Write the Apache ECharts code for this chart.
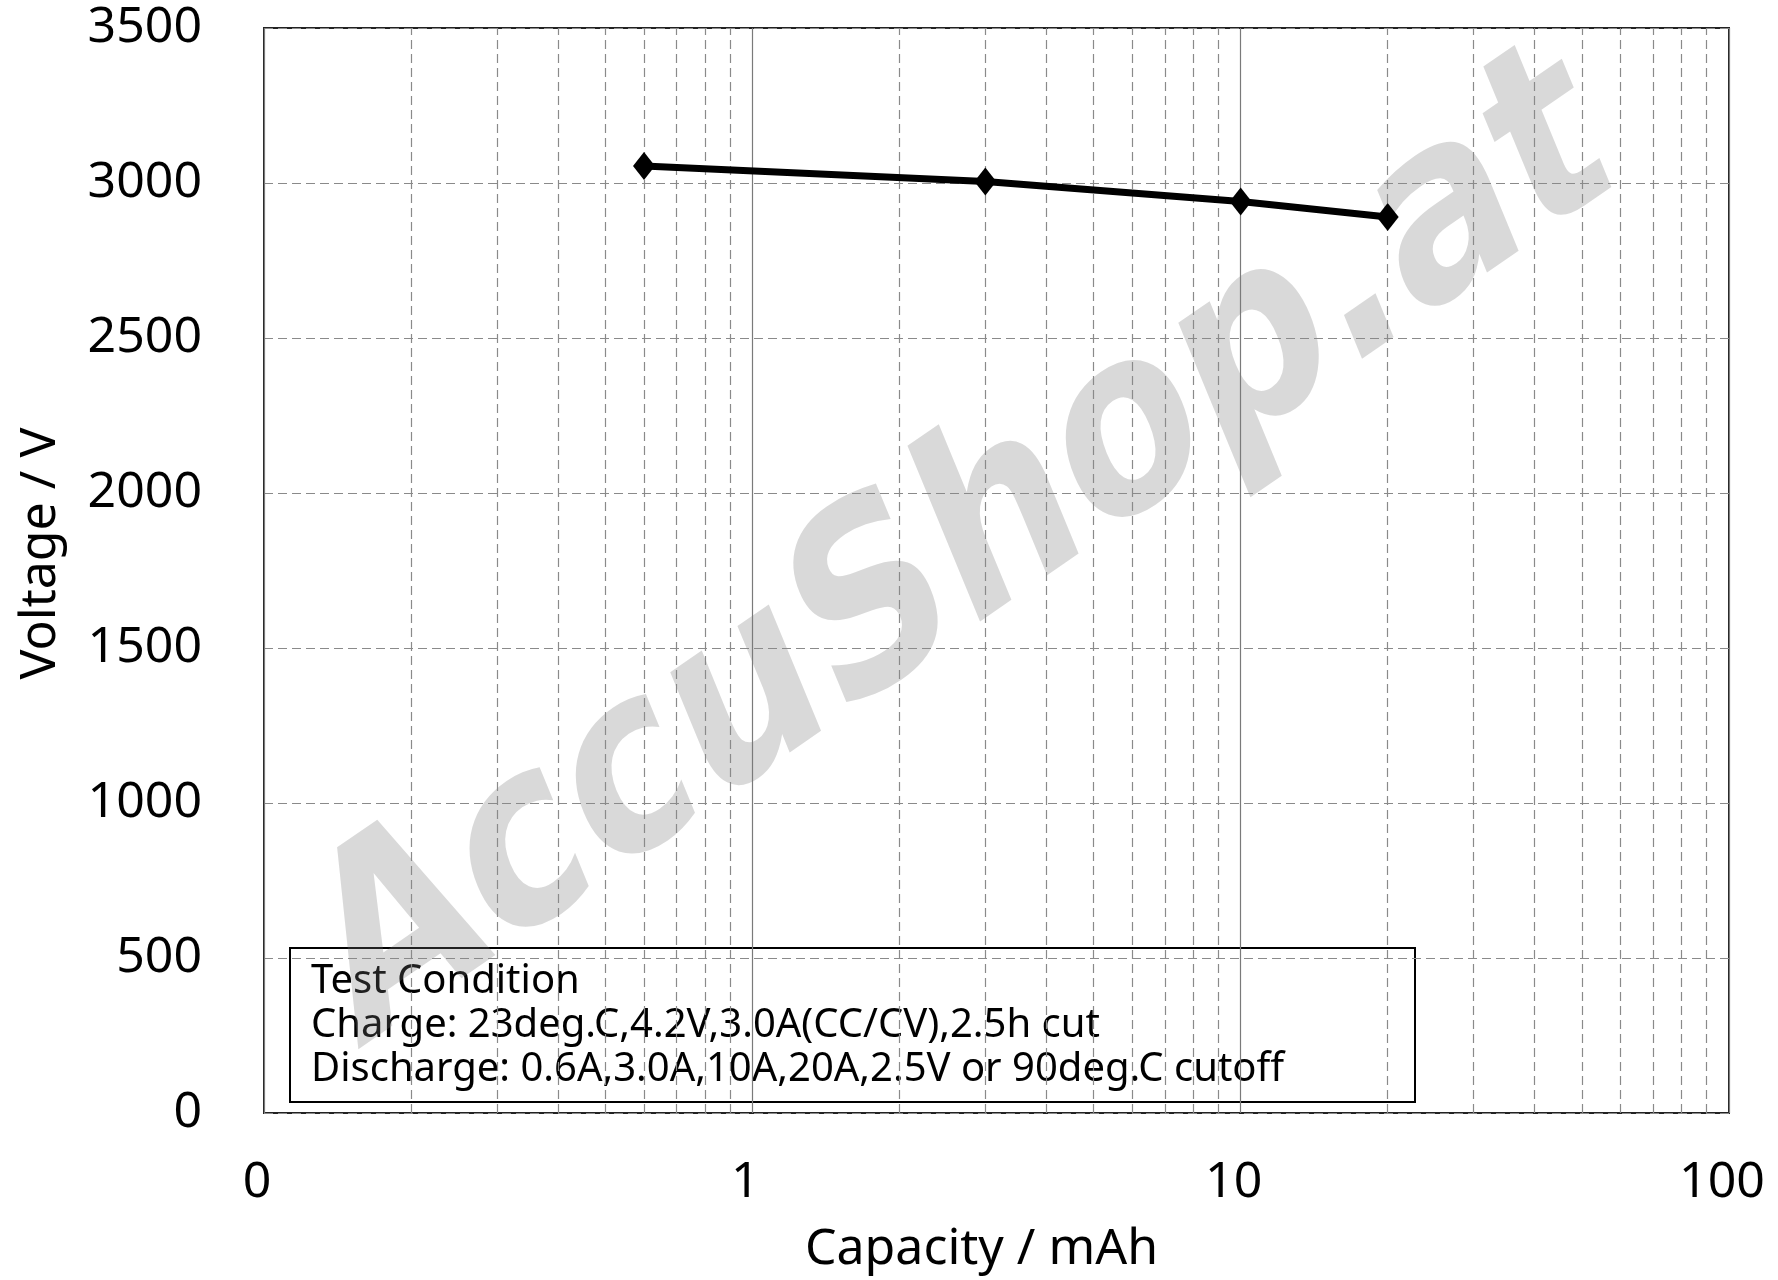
<!DOCTYPE html>
<html>
<head>
<meta charset="utf-8">
<script src="https://cdn.jsdelivr.net/npm/echarts@6/dist/echarts.min.js"></script>
<style>
html,body{margin:0;padding:0;background:#fff;}
#chart{width:1778px;height:1280px;}
</style>
</head>
<body>
<div id="chart"></div>
<script>
// ---- data ----
const capacity = [0.6, 3, 10, 20];            // mAh (x, log scale)
const voltage = [3055, 3005, 2940, 2890];      // V
const xTickValues = [0.1, 1, 10, 100];
const xTickLabels = ['0', '1', '10', '100'];
const minorGridValues = [0.2, 0.3, 0.4, 0.5, 0.6, 0.7, 0.8, 0.9,
                         2, 3, 4, 5, 6, 7, 8, 9,
                         20, 30, 40, 50, 60, 70, 80, 90];
const yMin = 0, yMax = 3500, yInterval = 500;
const xAxisName = 'Capacity / mAh';
const yAxisName = 'Voltage / V';
const legendLines = [
  'Test Condition',
  'Charge: 23deg.C,4.2V,3.0A(CC/CV),2.5h cut',
  'Discharge: 0.6A,3.0A,10A,20A,2.5V or 90deg.C cutoff'
];
const watermarkText = 'AccuShop.at';

// ---- chart ----
const FONT = '"Noto Sans", "DejaVu Sans", sans-serif';
const chart = echarts.init(document.getElementById('chart'), null, {renderer: 'canvas'});

const dashGray = '#8a8a8a';

const option = {
  backgroundColor: '#ffffff',
  animation: false,
  grid: {
    left: 264, top: 28, right: 49, bottom: 161,
    show: true, borderColor: '#222', borderWidth: 2, backgroundColor: 'transparent'
  },
  xAxis: {
    type: 'log', logBase: 10, min: xTickValues[0], max: xTickValues[xTickValues.length - 1],
    name: xAxisName, nameLocation: 'middle', nameGap: 112,
    nameTextStyle: {fontFamily: FONT, fontSize: 50, color: '#000', padding: [0, 30, 0, 0]},
    axisLine: {show: false},
    axisTick: {show: false},
    axisLabel: {
      fontFamily: FONT, fontSize: 50, color: '#000', margin: 45,
      padding: [0, 14, 0, 0],
      formatter: function (v) {
        const i = xTickValues.findIndex(t => Math.abs(Math.log10(t) - Math.log10(v)) < 1e-6);
        return i >= 0 ? xTickLabels[i] : '';
      }
    },
    splitLine: {show: true, lineStyle: {color: '#7a7a7a', width: 1.2, type: 'solid'}},
    minorTick: {show: false},
    minorSplitLine: {show: false}
  },
  yAxis: {
    type: 'value', min: yMin, max: yMax, interval: yInterval,
    name: yAxisName, nameLocation: 'middle', nameGap: 198, nameRotate: 90,
    nameTextStyle: {fontFamily: FONT, fontSize: 50, color: '#000', padding: [0, 0, 0, 34]},
    axisLine: {show: false},
    axisTick: {show: false},
    axisLabel: {
      fontFamily: FONT, fontSize: 50, color: '#000', margin: 62,
      formatter: function (v) { return String(v); }
    },
    splitLine: {show: true, lineStyle: {color: dashGray, width: 1.2, type: [9, 5]}}
  },
  series: [{
    type: 'line',
    data: capacity.map((c, i) => [c, voltage[i]]),
    symbol: 'diamond',
    symbolSize: [22, 28],
    showSymbol: true,
    lineStyle: {color: '#000', width: 7},
    itemStyle: {color: '#000'},
    z: 10,
    markLine: {
      silent: true,
      symbol: ['none', 'none'],
      label: {show: false},
      lineStyle: {color: dashGray, width: 1.2, type: [9, 5]},
      z: 1,
      data: minorGridValues.map(v => ({xAxis: v}))
    }
  }],
  graphic: [
    {
      type: 'group', z: 50,
      children: [
        {
          type: 'rect', shape: {x: 290, y: 948, width: 1125, height: 154},
          style: {fill: '#fff', stroke: '#000', lineWidth: 2}
        },
        {
          type: 'text', x: 311, y: 960,
          style: {
            text: legendLines.join('\n'), font: '40px ' + FONT, fill: '#000',
            lineHeight: 44, textVerticalAlign: 'top', verticalAlign: 'top'
          }
        }
      ]
    },
    {
      type: 'group', z: 100, silent: true,
      x: 963, y: 556, scaleX: 1, scaleY: 1.29,
      children: [{
        type: 'text', x: 0, y: 0, rotation: 0.490,
        style: {
          text: watermarkText, font: 'bold 203px "DejaVu Sans", sans-serif',
          fill: 'rgba(120,120,120,0.28)', align: 'center', verticalAlign: 'middle',
          textAlign: 'center', textVerticalAlign: 'middle'
        }
      }]
    }
  ]
};
chart.setOption(option);
</script>
</body>
</html>
